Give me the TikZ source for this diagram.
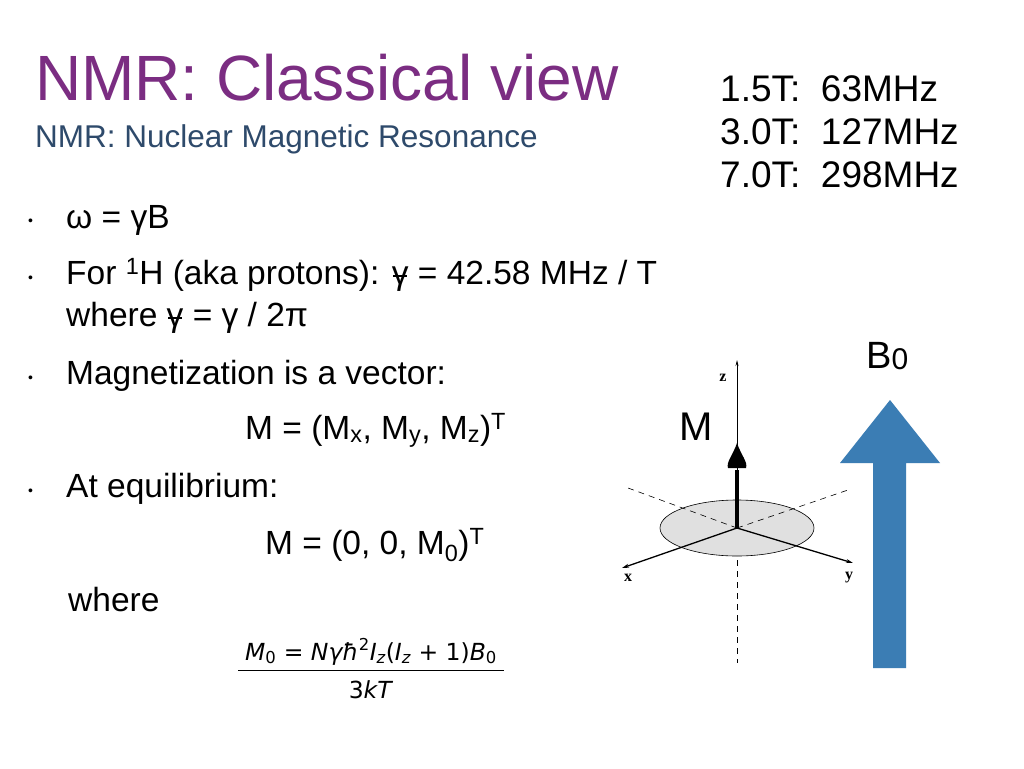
\documentclass[tikz,border=0pt]{standalone}
\usepackage{fontspec}
\usetikzlibrary{arrows.meta}
\setmainfont{Liberation Sans}
\newfontfamily\serifz{Liberation Serif}
\newfontfamily\dejav{DejaVu Sans}
\definecolor{ttl}{HTML}{7B2D82}
\definecolor{sub}{HTML}{2E4A6B}
\definecolor{barblue}{HTML}{3B7DB4}
\newcommand{\gbar}{\makebox[0pt][l]{γ}\raisebox{0.2em}{\makebox[0.5em][c]{\rule{0.42em}{0.06em}}}}
\begin{document}
\begin{tikzpicture}[x=1pt,y=-1pt,
  bul/.style={anchor=base west,font=\fontsize{33.5}{36}\selectfont},
  dot/.style={anchor=base west,font=\fontsize{14}{16}\selectfont},
  ax/.style={line width=1.3pt,-{Stealth[length=7pt,width=4pt]}},
  dsh/.style={line width=0.6pt,dash pattern=on 6pt off 5pt}]
\useasboundingbox (0,0) rectangle (1024,768);
\fill[white] (0,0) rectangle (1024,768);
\node[anchor=base west,text=ttl,font=\fontsize{64}{66}\selectfont,inner sep=0] (title) at (35,100) {NMR: Classical view};
\node[anchor=base west,text=sub,font=\fontsize{31.5}{33}\selectfont,inner sep=0] (subt) at (35,147) {NMR: Nuclear Magnetic Resonance};
\node[anchor=north west,align=left,font=\fontsize{37}{43}\selectfont,inner sep=0] (freq) at (720,75) {1.5T:\ \ 63MHz\\3.0T:\ \ 127MHz\\7.0T:\ \ 298MHz};
\foreach \y/\n in {225/a,282/b,382/c,495/d}{\node[dot,inner sep=0] (d\n) at (28,\y) {•};}
\node[bul,inner sep=0] (l1) at (66,228) {ω = γB};
\node[bul,inner sep=0] (l2) at (66,284) {For \textsuperscript{1}H (aka protons): \gbar\ = 42.58 MHz / T};
\node[bul,inner sep=0] (l3) at (66,326) {where \gbar\ = γ / 2π};
\node[bul,inner sep=0] (l4) at (66,384) {Magnetization is a vector:};
\node[bul,inner sep=0] (l5) at (245,439) {M = (M\textsubscript{x}, M\textsubscript{y}, M\textsubscript{z})\textsuperscript{T}};
\node[bul,inner sep=0] (l6) at (66,497) {At equilibrium:};
\node[bul,inner sep=0] (l7) at (265,554) {M = (0, 0, M\textsubscript{0})\textsuperscript{T}};
\node[bul,inner sep=0] (l8) at (68,611) {where};
\node[anchor=base,font=\dejav\fontsize{23.5}{25}\selectfont,inner sep=0] (num) at (371,660) {\textit{M}\textsubscript{0} = \textit{Nγħ}\textsuperscript{2}\textit{I\textsubscript{z}}(\textit{I\textsubscript{z}} + 1)\textit{B}\textsubscript{0}};
\node[anchor=base,font=\dejav\fontsize{23.5}{25}\selectfont,inner sep=0] (den) at (371,698) {3\textit{kT}};
\draw[line width=0.8pt] (238,670) -- (504,670);
% axes
\coordinate (o) at (737,528);
\draw[fill=black!12,line width=0.6pt] (o) ellipse (77 and 28);
\draw[dsh] (o) -- (628,488);
\draw[dsh] (o) -- (848,490);
\draw[dsh] (737,560) -- (737,663);
\coordinate (zt) at (737,360);
\coordinate (xt) at (622,568);
\coordinate (yt) at (853,563);
\draw[line width=0.8pt,-{Stealth[length=6pt,width=3pt]}] (o) -- (zt);
\draw[ax] (o) -- (xt);
\draw[ax] (o) -- (yt);
\draw[line width=3.5pt] (o) -- (737,470);
\fill (737,443) .. controls (741,455) and (748,462) .. (746,468) -- (728,468) .. controls (726,462) and (733,455) .. (737,443) -- cycle;
\node[font=\serifz\bfseries\fontsize{16}{18}\selectfont] (zl) at (723,378) {z};
\node[font=\serifz\bfseries\fontsize{16}{18}\selectfont] (xl) at (628,578) {x};
\node[font=\serifz\bfseries\fontsize{16}{18}\selectfont] (yl) at (849,578) {y};
\node[anchor=base west,font=\fontsize{40}{42}\selectfont,inner sep=0] (M) at (679,440) {M};
% B0
\fill[barblue] (873,668) -- (873,463) -- (840,463) -- (890,400) -- (940,463) -- (906,463) -- (906,668) -- cycle;
\node[anchor=base west,font=\fontsize{38}{40}\selectfont,inner sep=0] (B0) at (866,368) {B\raisebox{-0.05em}{\fontsize{30}{30}\selectfont 0}};
\end{tikzpicture}
\end{document}
